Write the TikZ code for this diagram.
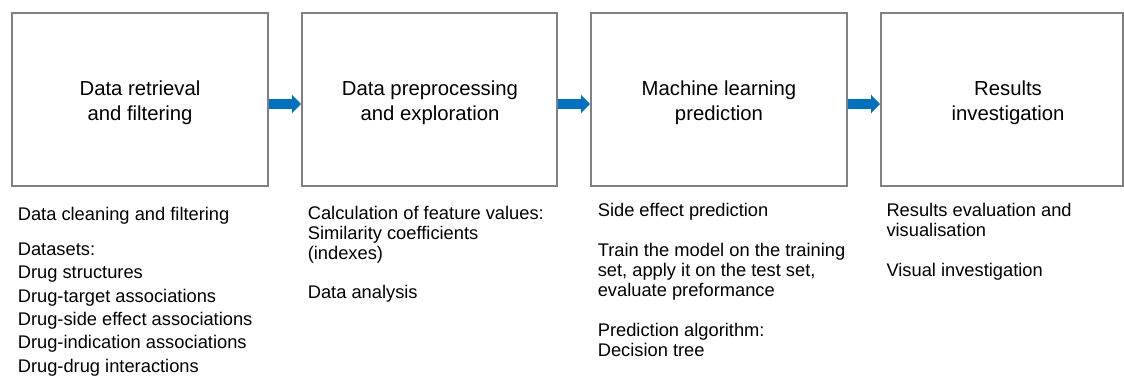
\documentclass[tikz,border=0pt]{standalone}
\usepackage{fontspec}
\setmainfont{Liberation Sans}
\usetikzlibrary{arrows.meta}
\definecolor{boxgray}{HTML}{808080}
\definecolor{flowblue}{HTML}{0070C0}
\newcommand{\firstline}[1]{\rule{0pt}{#1}}
\begin{document}
\begin{tikzpicture}[x=1pt,y=-1pt,
  stage/.style={draw=boxgray, line width=2pt, minimum height=173pt, inner sep=0pt},
  title/.style={anchor=north, align=center, inner sep=0pt, font=\fontsize{20.3}{25}\selectfont},
  notes/.style={anchor=north west, align=left, inner sep=0pt},
  flow/.style={color=flowblue, line width=10pt, -{Triangle[length=9pt,width=18pt]}}
]
\useasboundingbox (0,0) rectangle (1124,376);

% the four stages
\node[stage, minimum width=256pt] (b1) at (140,99.5) {};
\node[stage, minimum width=255pt] (b2) at (429.5,99.5) {};
\node[stage, minimum width=256pt] (b3) at (719,99.5) {};
\node[stage, minimum width=242pt] (b4) at (1002,99.5) {};

% stage titles
\node[title] (t1) at (140,79) {\firstline{16pt}Data retrieval\\and filtering};
\node[title] (t2) at (430,79) {\firstline{16pt}Data preprocessing\\and exploration};
\node[title] (t3) at (719,79) {\firstline{16pt}Machine learning\\prediction};
\node[title] (t4) at (1008,79) {\firstline{16pt}Results\\investigation};

% arrows between the stages
\coordinate (ay) at (0,104);
\draw[flow] (b1.east |- ay) -- (b2.west |- ay);
\draw[flow] (b2.east |- ay) -- (b3.west |- ay);
\draw[flow] (b3.east |- ay) -- (b4.west |- ay);

% notes under each stage
\node[notes, font=\fontsize{18.3}{23.4}\selectfont] (n1) at (17.6,205)
  {\firstline{15pt}Data cleaning and filtering\\[11.6pt]
   Datasets:\\
   Drug structures\\
   Drug-target associations\\
   Drug-side effect associations\\
   Drug-indication associations\\
   Drug-drug interactions};
\node[notes, font=\fontsize{18.3}{19.8}\selectfont] (n2) at (307.6,204.3)
  {\firstline{15pt}Calculation of feature values:\\
   Similarity coefficients\\
   (indexes)\\[19.8pt]
   Data analysis};
\node[notes, font=\fontsize{18.3}{20}\selectfont] (n3) at (597.6,201.7)
  {\firstline{15pt}Side effect prediction\\[20pt]
   Train the model on the training\\
   set, apply it on the test set,\\
   evaluate preformance\\[20pt]
   Prediction algorithm:\\
   Decision tree};
\node[notes, font=\fontsize{18.3}{20}\selectfont] (n4) at (886.3,201.7)
  {\firstline{15pt}Results evaluation and\\
   visualisation\\[20pt]
   Visual investigation};
\end{tikzpicture}
\end{document}
